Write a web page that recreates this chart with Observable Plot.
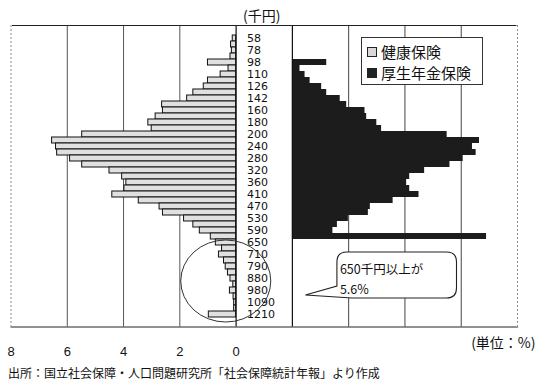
<!DOCTYPE html>
<html><head><meta charset="utf-8">
<script src="https://cdn.jsdelivr.net/npm/d3@7"></script>
<script src="https://cdn.jsdelivr.net/npm/@observablehq/plot@0.6"></script>
<style>
body{margin:0;background:#fff;}
#wrap{position:relative;width:537px;height:385px;overflow:hidden;}
#legend{position:absolute;left:361px;top:37px;width:120px;height:46px;border:1px solid #333;background:#fff;font-family:"Noto Sans CJK JP";font-size:15px;color:#111;}
#legend .row{position:absolute;left:5px;display:flex;align-items:center;white-space:nowrap;}
#legend .sw{width:8px;height:8px;border:1px solid #222;margin-right:4px;}
#caption{font-family:"Noto Sans CJK JP";font-size:12px;line-height:16px;margin-top:5px;padding-left:8px;color:#111;white-space:nowrap;}
</style></head><body>
<div id="wrap">
<div id="chart"></div>
<div id="legend">
  <div class="row" style="top:3px"><div class="sw" style="background:#d8d8d8"></div>健康保険</div>
  <div class="row" style="top:24px"><div class="sw" style="background:#222"></div>厚生年金保険</div>
</div>
<div id="caption">出所：国立社会保障・人口問題研究所「社会保障統計年報」より作成</div>
</div>
<script>
// 標準報酬月額（千円）
const grades = [58,68,78,88,98,104,110,118,126,134,142,150,160,170,180,190,200,220,240,260,280,300,320,340,360,380,410,440,470,500,530,560,590,620,650,680,710,750,790,830,880,930,980,1030,1090,1150,1210];
const labelGrades = [58,78,98,110,126,142,160,180,200,240,280,320,360,410,470,530,590,650,710,790,880,980,1090,1210];
// 健康保険 (%)
const kenpo = [0.12,0.18,0.15,0.2,1.0,0.27,0.55,1.0,1.15,1.52,1.74,2.63,2.6,2.86,3.12,3.0,5.47,6.54,6.4,6.36,5.9,5.47,4.5,4.05,3.9,3.97,4.4,3.46,2.72,2.6,1.85,1.52,1.29,0.9,0.72,0.5,0.61,0.43,0.37,0.29,0.2,0.1,0.22,0.09,0.07,0.07,0.97];
// 厚生年金保険 (%)
const pensionGrades = [98,104,110,118,126,134,142,150,160,170,180,190,200,220,240,260,280,300,320,340,360,380,410,440,470,500,530,560,590,620];
const kosei = [1.22,0.27,0.45,0.63,1.04,1.22,1.7,1.93,2.58,2.64,3.0,3.17,5.5,6.65,6.4,6.53,6.07,5.6,4.7,4.17,4.06,4.17,4.5,3.58,2.77,2.7,1.99,1.6,1.44,6.9];
const xTicks = [-8,-6,-4,-2,0];
const gridLeft = [-6,-4,-2];
const gridRight = [2,4,6];
const offset = 2; // right panel zero

const healthData = grades.map((g,i)=>({grade:String(g), v:kenpo[i]}));
const pensionData = pensionGrades.map((g,i)=>({grade:String(g), v:kosei[i]}));

const chart = Plot.plot({
  width:537, height:360,
  marginLeft:10.5, marginRight:20, marginTop:25, marginBottom:33.5,
  x:{domain:[-8,10]},
  y:{type:"band", domain:grades.map(String), padding:0, axis:null},
  style:{fontFamily:"'Liberation Sans', Arial, sans-serif", fontSize:"12px", background:"white", color:"#111"},
  marks:[
    Plot.ruleX(gridLeft, {stroke:"#555", strokeWidth:1}),
    Plot.ruleX(gridRight, {x:d=>offset+d, stroke:"#444", strokeWidth:1}),
    Plot.barX(pensionData, {y:"grade", x1:offset, x2:d=>offset+d.v, fill:"#1c1c1c"}),
    Plot.barX(healthData, {y:"grade", x1:0, x2:d=>-d.v, fill:"#e0e0e0", stroke:"#111", strokeWidth:1}),
    Plot.ruleX([0, offset], {stroke:"#111", strokeWidth:1.2}),
    Plot.frame({stroke:"#222"}),
    Plot.ruleX([-8,10], {stroke:"white", strokeWidth:2}),
    Plot.ruleX([-8,10], {stroke:"#888", strokeDasharray:"2,2"}),
    Plot.axisX({ticks:xTicks, tickFormat:d=>Math.abs(d), tickSize:0, tickPadding:20, fontSize:13, label:null, anchor:"bottom"}),
    Plot.text(labelGrades, {x:0, y:d=>String(d), text:d=>String(d), dx:11, textAnchor:"start", fontFamily:"DejaVu Sans", fontSize:11, fill:"#111"}),
    Plot.text(["(千円)"], {x:0, frameAnchor:"top", dy:-14, dx:7, textAnchor:"start", fontSize:14, fontFamily:"Noto Sans CJK JP"}),
    Plot.text(["(単位：%)"], {frameAnchor:"bottom-right", dx:18, dy:21, textAnchor:"end", fontSize:14, fontFamily:"Noto Sans CJK JP"})
  ]
});
document.getElementById("chart").appendChild(chart);

// annotations positioned through the scales
const xs = chart.scale("x"), ys = chart.scale("y");
const X = v => xs.apply(v);
const Yb = g => ys.apply(String(g));
const bw = ys.bandwidth;
const svg = d3.select(chart);
const top650 = Yb(650), bot1210 = Yb(1210) + bw;
svg.append("ellipse")
  .attr("cx", X(-0.35)).attr("cy", (top650 + bot1210)/2 + 3)
  .attr("rx", X(0) - X(-1.6)).attr("ry", (bot1210 - top650)/2 + 2)
  .attr("fill","none").attr("stroke","#333").attr("stroke-width",1);

const x0 = X(3.6), x1 = X(7.85), y0 = Yb(650) + 13, y1 = Yb(1030) + bw/2 + 2, r = 10;
const tipX = X(2.48), tipY = Yb(1030) + bw/2 - 1;
const p = `M${x0+r},${y0} H${x1-r} Q${x1},${y0} ${x1},${y0+r} V${y1-r} Q${x1},${y1} ${x1-r},${y1} H${x0+15} L${tipX},${tipY} L${x0},${y1-12} V${y0+r} Q${x0},${y0} ${x0+r},${y0} Z`;
svg.append("path").attr("d", p).attr("fill","white").attr("stroke","#222").attr("stroke-width",1.1);
svg.append("text").attr("x", x0+3).attr("y", y0+16).attr("dominant-baseline","central").attr("text-anchor","start")
  .attr("font-family","Noto Sans CJK JP").attr("font-size",12.5).attr("fill","#111").text("650千円以上が");
svg.append("text").attr("x", x0+3).attr("y", y0+36).attr("dominant-baseline","central").attr("text-anchor","start")
  .attr("font-family","Noto Sans CJK JP").attr("font-size",12.5).attr("fill","#111").text("5.6%");
</script>
</body></html>
